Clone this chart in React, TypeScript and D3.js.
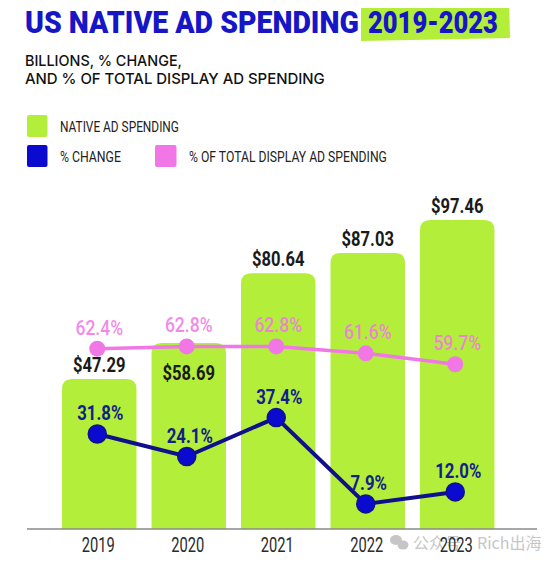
import * as d3 from 'd3';
import { useLayoutEffect, useRef, useState } from 'react';
import type { ReactNode } from 'react';

const years = ['2019', '2020', '2021', '2022', '2023'];
const spending = [47.29, 58.69, 80.64, 87.03, 97.46]; // billions
const pctChange = [31.8, 24.1, 37.4, 7.9, 12.0];
const pctOfDisplay = [62.4, 62.8, 62.8, 61.6, 59.7];
// bars whose value label sits inside the bar (pink line runs above it)
const labelInside = ['2020'];

const width = 560;
const height = 564;
const baseline = 529;

const GREEN = '#b2ee3a';
const BLUE = '#0b0bcf';
const NAVY = '#10108c';
const PINK = '#f277e6';
const SANS = "'Roboto', sans-serif";

type TextProps = {
    x: number;
    y: number;
    anchor?: 'start' | 'middle' | 'end';
    children: ReactNode;
    [k: string]: unknown;
};

// text squeezed horizontally by a fixed factor (no condensed face installed)
function Cond({ x, y, sx = 0.85, anchor = 'start', children, ...rest }: TextProps & { sx?: number }) {
    return (
        <text transform={`translate(${x},${y}) scale(${sx},1)`} textAnchor={anchor} {...rest}>
            {children}
        </text>
    );
}

// text squeezed to a given width, measured after layout
function Fit({ x, y, w, anchor = 'start', children, ...rest }: TextProps & { w: number }) {
    const ref = useRef<SVGTextElement>(null);
    const [sx, setSx] = useState(1);
    useLayoutEffect(() => {
        if (!ref.current) return;
        const len = ref.current.getComputedTextLength();
        if (len > 0) setSx(w / len);
    }, [w, children]);
    return (
        <text ref={ref} transform={`translate(${x},${y}) scale(${sx},1)`} textAnchor={anchor} {...rest}>
            {children}
        </text>
    );
}

export default function App() {
    const x = d3.scaleBand<string>().domain(years).range([47, 509.5]).padding(0.168);
    const yBar = d3.scaleLinear().domain([0, 100]).range([baseline, 212]);
    const yChange = d3.scaleLinear().domain([0, 40]).range([527, 410]);
    const yShare = d3.scaleLinear().domain([50, 70]).range([420, 305]);

    const mid = (yr: string) => (x(yr) as number) + x.bandwidth() / 2;
    const cx = (i: number) => mid(years[i]) - 2;

    const changeLine = d3
        .line<number>()
        .x((_, i) => cx(i))
        .y((d) => yChange(d));
    const shareLine = d3
        .line<number>()
        .x((_, i) => cx(i))
        .y((d) => yShare(d));

    // bar with rounded top corners only
    const barPath = (x0: number, y0: number, w: number, h: number, r: number) =>
        `M${x0},${y0 + h}V${y0 + r}Q${x0},${y0} ${x0 + r},${y0}H${x0 + w - r}Q${x0 + w},${y0} ${x0 + w},${y0 + r}V${y0 + h}Z`;

    return (
        <svg width={width} height={height} style={{ display: 'block', margin: '-8px', background: '#fff' }}>
            {/* title */}
            <polygon points='361,4 509,1 510,38 361,41' fill={GREEN} />
            <Fit x={25} y={33} w={334} fontFamily={SANS} fontWeight={900} fontSize={32} fill='#1616c6'>
                US NATIVE AD SPENDING
            </Fit>
            <Fit x={368} y={33} w={130} fontFamily={SANS} fontWeight={900} fontSize={32} fill='#1616c6'>
                2019-2023
            </Fit>
            <Fit x={25} y={66} w={157} fontFamily="'Inter', sans-serif" fontWeight={500} fontSize={15} fill='#111'>
                BILLIONS, % CHANGE,
            </Fit>
            <Fit x={25} y={83.5} w={300} fontFamily="'Inter', sans-serif" fontWeight={500} fontSize={15} fill='#111'>
                AND % OF TOTAL DISPLAY AD SPENDING
            </Fit>

            {/* legend */}
            <g fontFamily={SANS} fontSize={15.5} fill='#222'>
                <rect x={27} y={115} width={20.5} height={22} rx={2} fill={GREEN} />
                <Fit x={60} y={131.5} w={119}>NATIVE AD SPENDING</Fit>
                <rect x={27} y={145} width={20.5} height={22} rx={2} fill={BLUE} />
                <Fit x={60} y={161.5} w={61}>% CHANGE</Fit>
                <rect x={155} y={145} width={21.5} height={22} rx={2} fill={PINK} />
                <Fit x={189} y={161.5} w={198}>% OF TOTAL DISPLAY AD SPENDING</Fit>
            </g>

            {/* bars */}
            {spending.map((v, i) => (
                <path
                    key={years[i]}
                    d={barPath(x(years[i]) as number, yBar(v), x.bandwidth(), baseline - yBar(v), 10)}
                    fill={GREEN}
                />
            ))}
            {spending.map((v, i) => {
                const inside = labelInside.includes(years[i]);
                return (
                    <Cond
                        key={years[i]}
                        x={mid(years[i])}
                        y={inside ? yBar(v) + 37 : yBar(v) - 7}
                        anchor='middle'
                        sx={0.85}
                        fontFamily={SANS}
                        fontWeight={700}
                        fontSize={19.5}
                        fill='#1a1a1a'
                    >
                        ${v.toFixed(2)}
                    </Cond>
                );
            })}

            {/* axis */}
            <line x1={27} x2={537} y1={baseline} y2={baseline} stroke='#8a8a8a' strokeWidth={1.5} />

            {/* watermark */}
            <g fill='#c6c6c6'>
                <ellipse cx={396} cy={540} rx={6} ry={5} />
                <ellipse cx={403} cy={545} rx={5.5} ry={4.5} />
                <text x={413} y={549} fontFamily="'Noto Sans CJK SC', sans-serif" fontSize={16}>
                    公众号
                </text>
                <text x={477} y={549} fontFamily="'Noto Sans CJK SC', sans-serif" fontSize={16}>
                    Rich出海
                </text>
            </g>

            {years.map((yr) => (
                <Cond key={yr} x={mid(yr) - 1} y={552} anchor='middle' sx={0.7} fontFamily={SANS} fontSize={21} fill='#2a2a2a'>
                    {yr}
                </Cond>
            ))}

            {/* % of total display ad spending */}
            <path d={shareLine(pctOfDisplay) ?? ''} fill='none' stroke={PINK} strokeWidth={3.5} />
            {pctOfDisplay.map((v, i) => (
                <g key={years[i]}>
                    <circle cx={cx(i)} cy={yShare(v)} r={8} fill={PINK} />
                    <Cond x={mid(years[i])} y={yShare(v) - 14} anchor='middle' sx={0.9} fontFamily={SANS} fontWeight={500} fontSize={19.5} fill={PINK} fillOpacity={0.88}>
                        {v.toFixed(1)}%
                    </Cond>
                </g>
            ))}

            {/* % change */}
            <path d={changeLine(pctChange) ?? ''} fill='none' stroke={NAVY} strokeWidth={4} />
            {pctChange.map((v, i) => (
                <g key={years[i]}>
                    <circle cx={cx(i)} cy={yChange(v)} r={9} fill={BLUE} stroke={NAVY} strokeWidth={1.5} />
                    <Cond x={mid(years[i]) + 1} y={yChange(v) - 14} anchor='middle' sx={0.86} fontFamily={SANS} fontWeight={700} fontSize={19.5} fill='#13208a'>
                        {v.toFixed(1)}%
                    </Cond>
                </g>
            ))}
        </svg>
    );
}
